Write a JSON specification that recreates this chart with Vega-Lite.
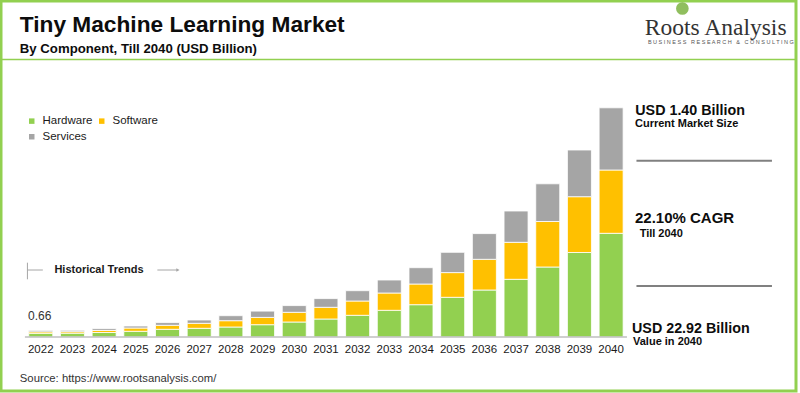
{
  "$schema": "https://vega.github.io/schema/vega-lite/v6.json",
  "width": 795,
  "height": 390,
  "autosize": {"type": "none"},
  "padding": {"left": 1, "top": 1, "right": 4, "bottom": 2},
  "background": "white",
  "config": {
    "view": {"stroke": "#92d050", "strokeWidth": 3},
    "font": "Liberation Sans",
    "text": {"font": "Liberation Sans", "color": "#1a1a1a"}
  },
  "data": {
    "values": [
      {"year": 2022, "component": "Hardware", "value": 0.37},
      {"year": 2022, "component": "Software", "value": 0.15},
      {"year": 2022, "component": "Services", "value": 0.14},
      {"year": 2023, "component": "Hardware", "value": 0.38},
      {"year": 2023, "component": "Software", "value": 0.15},
      {"year": 2023, "component": "Services", "value": 0.14},
      {"year": 2024, "component": "Hardware", "value": 0.45},
      {"year": 2024, "component": "Software", "value": 0.2},
      {"year": 2024, "component": "Services", "value": 0.18},
      {"year": 2025, "component": "Hardware", "value": 0.57},
      {"year": 2025, "component": "Software", "value": 0.33},
      {"year": 2025, "component": "Services", "value": 0.2},
      {"year": 2026, "component": "Hardware", "value": 0.77},
      {"year": 2026, "component": "Software", "value": 0.4},
      {"year": 2026, "component": "Services", "value": 0.27},
      {"year": 2027, "component": "Hardware", "value": 0.87},
      {"year": 2027, "component": "Software", "value": 0.5},
      {"year": 2027, "component": "Services", "value": 0.33},
      {"year": 2028, "component": "Hardware", "value": 1.0},
      {"year": 2028, "component": "Software", "value": 0.63},
      {"year": 2028, "component": "Services", "value": 0.5},
      {"year": 2029, "component": "Hardware", "value": 1.23},
      {"year": 2029, "component": "Software", "value": 0.73},
      {"year": 2029, "component": "Services", "value": 0.63},
      {"year": 2030, "component": "Hardware", "value": 1.5},
      {"year": 2030, "component": "Software", "value": 0.97},
      {"year": 2030, "component": "Services", "value": 0.67},
      {"year": 2031, "component": "Hardware", "value": 1.8},
      {"year": 2031, "component": "Software", "value": 1.17},
      {"year": 2031, "component": "Services", "value": 0.87},
      {"year": 2032, "component": "Hardware", "value": 2.17},
      {"year": 2032, "component": "Software", "value": 1.43},
      {"year": 2032, "component": "Services", "value": 1.03},
      {"year": 2033, "component": "Hardware", "value": 2.67},
      {"year": 2033, "component": "Software", "value": 1.73},
      {"year": 2033, "component": "Services", "value": 1.3},
      {"year": 2034, "component": "Hardware", "value": 3.23},
      {"year": 2034, "component": "Software", "value": 2.07},
      {"year": 2034, "component": "Services", "value": 1.63},
      {"year": 2035, "component": "Hardware", "value": 3.97},
      {"year": 2035, "component": "Software", "value": 2.47},
      {"year": 2035, "component": "Services", "value": 2.03},
      {"year": 2036, "component": "Hardware", "value": 4.7},
      {"year": 2036, "component": "Software", "value": 3.07},
      {"year": 2036, "component": "Services", "value": 2.57},
      {"year": 2037, "component": "Hardware", "value": 5.77},
      {"year": 2037, "component": "Software", "value": 3.7},
      {"year": 2037, "component": "Services", "value": 3.13},
      {"year": 2038, "component": "Hardware", "value": 7.0},
      {"year": 2038, "component": "Software", "value": 4.55},
      {"year": 2038, "component": "Services", "value": 3.77},
      {"year": 2039, "component": "Hardware", "value": 8.45},
      {"year": 2039, "component": "Software", "value": 5.58},
      {"year": 2039, "component": "Services", "value": 4.67},
      {"year": 2040, "component": "Hardware", "value": 10.37},
      {"year": 2040, "component": "Software", "value": 6.33},
      {"year": 2040, "component": "Services", "value": 6.22}
    ]
  },
  "layer": [
    {
      "transform": [{"calculate": "indexof(['Hardware', 'Software', 'Services'], datum.component)", "as": "rank"}],
      "mark": {"type": "bar", "width": 24, "stroke": "#ffffff", "strokeWidth": 0.8},
      "encoding": {
        "x": {"field": "year", "type": "quantitative", "axis": null,
              "scale": {"domain": [2020.9031, 2045.6772], "nice": false, "zero": false}},
        "y": {"field": "value", "type": "quantitative", "axis": null, "stack": "zero",
              "scale": {"domain": [-5.4, 33.6], "nice": false, "zero": false}},
        "color": {
          "field": "component", "type": "nominal",
          "scale": {"domain": ["Hardware", "Software", "Services"], "range": ["#92d050", "#ffc000", "#a5a5a5"]},
          "legend": {
            "title": null, "orient": "none", "legendX": 25, "legendY": 114,
            "direction": "horizontal",
            "values": ["Hardware", "Software", "Services"],
            "columns": 2, "columnPadding": 3, "rowPadding": 3, "padding": 0,
            "symbolType": "square", "symbolSize": 30, "symbolStrokeWidth": 0,
            "labelFontSize": 11.5, "labelFont": "Liberation Sans", "labelColor": "#1a1a1a", "labelOffset": 5
          }
        },
        "order": {"field": "rank", "type": "quantitative", "sort": "ascending"}
      }
    },
    {
      "mark": {"type": "rule", "color": "#bfbfbf", "strokeWidth": 1.5},
      "data": {"values": [{}]},
      "encoding": {"x": {"datum": 2021.5}, "x2": {"datum": 2040.5}, "y": {"datum": 0}}
    },
    {
      "transform": [{"aggregate": [{"op": "sum", "field": "value", "as": "total"}], "groupby": ["year"]}],
      "mark": {"type": "text", "fontSize": 11.5, "baseline": "middle", "dy": 12.5, "color": "#1a1a1a"},
      "encoding": {
        "x": {"field": "year", "type": "quantitative"},
        "y": {"datum": 0},
        "text": {"field": "year", "type": "quantitative", "format": "d"}
      }
    },
    {
      "transform": [
        {"filter": "datum.year == 2022"},
        {"aggregate": [{"op": "sum", "field": "value", "as": "total"}], "groupby": ["year"]}
      ],
      "mark": {"type": "text", "fontSize": 12, "baseline": "middle", "dy": -14, "dx": -1, "color": "#333333"},
      "encoding": {
        "x": {"field": "year", "type": "quantitative"},
        "y": {"field": "total", "type": "quantitative"},
        "text": {"field": "total", "type": "quantitative", "format": ".2f"}
      }
    },
    {
      "mark": {"type": "rule", "color": "#92d050", "strokeWidth": 1.5},
      "data": {"values": [{}]},
      "encoding": {"y": {"datum": 27.75}}
    },
    {
      "mark": {"type": "text", "text": "Tiny Machine Learning Market", "fontSize": 22.7, "fontWeight": "bold", "align": "left", "baseline": "alphabetic", "color": "#0d0d0d"},
      "data": {"values": [{}]},
      "encoding": {"x": {"datum": 2021.3394}, "y": {"datum": 30.55}}
    },
    {
      "mark": {"type": "text", "text": "By Component, Till 2040 (USD Billion)", "fontSize": 13.2, "fontWeight": "bold", "align": "left", "baseline": "alphabetic", "color": "#0d0d0d"},
      "data": {"values": [{}]},
      "encoding": {"x": {"datum": 2021.3394}, "y": {"datum": 28.45}}
    },
    {
      "mark": {"type": "point", "shape": "circle", "filled": true, "size": 160, "color": "#7cb342", "opacity": 0.85},
      "data": {"values": [{}]},
      "encoding": {"x": {"datum": 2042.249}, "y": {"datum": 32.85}}
    },
    {
      "mark": {"type": "text", "text": "Roots Analysis", "fontSize": 23.5, "font": "Liberation Serif", "align": "left", "baseline": "alphabetic", "color": "#333333"},
      "data": {"values": [{}]},
      "encoding": {"x": {"datum": 2041.065}, "y": {"datum": 30.2}}
    },
    {
      "mark": {"type": "text", "text": "B U S I N E S S \u00a0 R E S E A R C H \u00a0 & \u00a0 C O N S U L T I N G", "fontSize": 5.5, "align": "center", "baseline": "middle", "color": "#555555"},
      "data": {"values": [{}]},
      "encoding": {"x": {"datum": 2043.465}, "y": {"datum": 29.47}}
    },
    {
      "mark": {"type": "rule", "color": "#a6a6a6", "strokeWidth": 1},
      "data": {"values": [{}]},
      "encoding": {"x": {"datum": 2021.5793}, "y": {"datum": 7.43}, "y2": {"datum": 5.77}}
    },
    {
      "mark": {"type": "rule", "color": "#a6a6a6", "strokeWidth": 1},
      "data": {"values": [{}]},
      "encoding": {"x": {"datum": 2021.5793}, "x2": {"datum": 2022.0655}, "y": {"datum": 6.7}}
    },
    {
      "mark": {"type": "text", "text": "Historical Trends", "fontSize": 11, "fontWeight": "bold", "align": "left", "baseline": "middle", "color": "#1a1a1a"},
      "data": {"values": [{}]},
      "encoding": {"x": {"datum": 2022.43}, "y": {"datum": 6.7}}
    },
    {
      "mark": {"type": "rule", "color": "#a6a6a6", "strokeWidth": 1},
      "data": {"values": [{}]},
      "encoding": {"x": {"datum": 2025.68}, "x2": {"datum": 2026.33}, "y": {"datum": 6.7}}
    },
    {
      "mark": {"type": "point", "shape": "triangle-right", "filled": true, "size": 14, "color": "#a6a6a6", "opacity": 1},
      "data": {"values": [{}]},
      "encoding": {"x": {"datum": 2026.33}, "y": {"datum": 6.7}}
    },
    {
      "mark": {"type": "text", "text": "USD 1.40 Billion", "fontSize": 14.3, "fontWeight": "bold", "align": "left", "baseline": "alphabetic", "color": "#0d0d0d"},
      "data": {"values": [{}]},
      "encoding": {"x": {"datum": 2040.763}, "y": {"datum": 22.2}}
    },
    {
      "mark": {"type": "text", "text": "Current Market Size", "fontSize": 11, "fontWeight": "bold", "align": "left", "baseline": "middle", "color": "#0d0d0d"},
      "data": {"values": [{}]},
      "encoding": {"x": {"datum": 2040.753}, "y": {"datum": 21.27}}
    },
    {
      "mark": {"type": "rule", "color": "#808080", "strokeWidth": 2},
      "data": {"values": [{}]},
      "encoding": {"x": {"datum": 2040.8}, "x2": {"datum": 2045.076}, "y": {"datum": 17.63}}
    },
    {
      "mark": {"type": "text", "text": "22.10% CAGR", "fontSize": 15, "fontWeight": "bold", "align": "left", "baseline": "alphabetic", "color": "#0d0d0d"},
      "data": {"values": [{}]},
      "encoding": {"x": {"datum": 2040.753}, "y": {"datum": 11.37}}
    },
    {
      "mark": {"type": "text", "text": "Till 2040", "fontSize": 11, "fontWeight": "bold", "align": "left", "baseline": "middle", "color": "#0d0d0d"},
      "data": {"values": [{}]},
      "encoding": {"x": {"datum": 2040.9}, "y": {"datum": 10.27}}
    },
    {
      "mark": {"type": "rule", "color": "#808080", "strokeWidth": 2},
      "data": {"values": [{}]},
      "encoding": {"x": {"datum": 2040.8}, "x2": {"datum": 2045.076}, "y": {"datum": 5.1}}
    },
    {
      "mark": {"type": "text", "text": "USD 22.92 Billion", "fontSize": 14.3, "fontWeight": "bold", "align": "left", "baseline": "alphabetic", "color": "#0d0d0d"},
      "data": {"values": [{}]},
      "encoding": {"x": {"datum": 2040.66}, "y": {"datum": 0.43}}
    },
    {
      "mark": {"type": "text", "text": "Value in 2040", "fontSize": 11, "fontWeight": "bold", "align": "left", "baseline": "middle", "color": "#0d0d0d"},
      "data": {"values": [{}]},
      "encoding": {"x": {"datum": 2040.691}, "y": {"datum": -0.53}}
    },
    {
      "mark": {"type": "text", "text": "Source: https://www.rootsanalysis.com/", "fontSize": 11.3, "align": "left", "baseline": "middle", "color": "#333333"},
      "data": {"values": [{}]},
      "encoding": {"x": {"datum": 2021.3394}, "y": {"datum": -4.2}}
    }
  ]
}
